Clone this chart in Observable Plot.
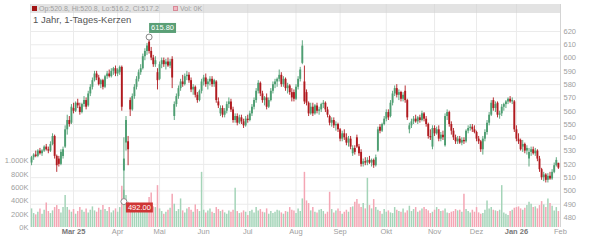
<!DOCTYPE html>
<html><head><meta charset="utf-8">
<script src="https://cdn.jsdelivr.net/npm/d3@7"></script>
<script src="https://cdn.jsdelivr.net/npm/@observablehq/plot@0.6"></script>
<style>
body{margin:0;background:#fff;font-family:"Liberation Sans",Arial,sans-serif;}
#wrap{position:relative;width:600px;height:240px;overflow:hidden;}
#hdr{position:absolute;left:30px;top:4px;width:530px;height:9px;background:rgba(208,208,208,0.6);}
.hd{position:absolute;top:4px;font-size:7px;line-height:9px;color:#a0a0a0;white-space:nowrap;}
.sq{position:absolute;top:5.5px;width:5px;height:5px;box-sizing:border-box;}
#title{position:absolute;left:33px;top:14px;font-size:9.5px;color:#555;white-space:nowrap;}
</style></head>
<body><div id="wrap"><div id="chart"></div>
<div id="hdr"></div>
<div class="sq" style="left:32px;background:#a31515"></div>
<div class="hd" id="ohlc" style="left:39px"></div>
<div class="sq" style="left:173px;background:#f2b8c2;border:1px solid #d88a98"></div>
<div class="hd" id="vol" style="left:180px"></div>
<div id="title"></div>
</div>
<script>
const titleText = "1 Jahr, 1-Tages-Kerzen";
const headerOHLC = "Op:520.8, Hi:520.8, Lo:516.2, Cl:517.2";
const headerVol = "Vol: 0K";
const holidays = ["2025-04-18","2025-04-21","2025-05-01","2025-12-24","2025-12-25","2025-12-26","2025-12-31","2026-01-01"];
const monthNames = ["Jan","Feb","Mar","Apr","Mai","Jun","Jul","Aug","Sep","Okt","Nov","Dez"];
const priceTicks = [480,490,500,510,520,530,540,550,560,570,580,590,600,610,620];
const volTicks = [0,200,400,600,800,1000];
const volLabels = ["0K","200K","400K","600K","800K","1.000K"];

const opens = [521,525,527,526,530,528,530,533,531,530, 535,541,526,524,520,526,533,546,553,551,
562,560,566,563,559,565,568,564,573,578, 583,588,585,580,583,578,586,588,586,590,
592,588,589,593,515,536,537,568,561,571, 578,584,589,592,601,605,612,605,600,595,
589,584,595,598,595,597,594,599,556,565, 571,577,582,580,586,587,583,576,578,572,
568,575,582,585,580,582,584,580,582,567, 558,562,557,560,565,567,561,553,556,551,
555,552,549,554,553,558,563,568,575,581, 573,568,570,563,568,575,580,582,584,587,
580,584,577,579,574,574,569,578,584,596, 582,574,566,558,563,558,564,560,561,565,
566,561,556,551,553,549,550,546,539,543, 540,536,539,528,532,540,533,529,520,522,
521,523,521,523,519,530,548,545,550,554, 559,556,566,573,577,572,574,569,575,568,
546,549,552,554,552,555,553,558,554,550, 541,533,547,543,546,539,542,534,556,559,
550,545,540,537,539,536,538,537,545,547, 548,546,544,539,537,531,539,544,551,557,
568,562,566,557,558,563,565,567,569,567, 567,546,539,538,533,535,530,524,529,531,
528,530,524,516,510,512,508,511,509,514, 519,520.8];
const highs = [526,528,530,531,532,531,534,535,533,537, 543,542,527,526,531,533,549,557,556,565,
566,567,569,566,566,571,570,575,580,585, 590,590,587,584,584,587,590,591,592,593,
594,592,594,594,540,556,541,570,573,580, 586,591,595,603,607,611,615.8,608,602,601,
592,597,600,600,599,600,599,601,567,573, 579,584,587,588,590,589,585,580,579,574,
576,584,587,588,584,586,586,584,583,570, 564,564,562,567,570,569,563,558,558,557,
557,554,556,557,560,565,570,577,583,582, 575,571,573,570,577,582,584,585,591,589,
586,585,581,580,577,576,580,586,593,613, 594,576,567,566,566,565,566,563,566,568,
567,563,557,555,555,552,551,547,545,546, 543,541,541,534,534,542,535,531,524,525,
525,526,524,524,527,548,550,551,556,561, 561,568,575,579,580,576,575,574,579,569,
551,554,556,557,556,557,560,559,556,551, 546,549,549,548,549,544,545,558,561,560,
552,547,542,541,541,540,540,546,549,550, 550,549,545,541,538,541,546,553,559,568,
570,567,567,560,565,566,568,570,571,570, 568,549,543,539,538,536,534,532,533,533,
532,531,526,517,514,513,513,514,516,521, 525,520.8];
const lows = [519,523,525,525,527,526,529,530,528,529, 534,524,514,518,519,524,532,542,548,550,
558,559,562,557,558,563,561,563,571,576, 582,583,579,577,576,577,584,585,585,587,
586,586,587,560,492,530,519,556,560,569, 576,582,587,591,598,602,603,598,593,593,
576,583,592,593,591,593,592,577,553,563, 569,575,578,579,583,581,574,572,570,566,
567,573,579,578,576,579,578,578,566,562, 556,555,555,558,562,559,551,551,549,550,
550,547,548,551,552,556,561,566,573,571, 566,564,561,562,567,573,577,578,582,578,
578,575,573,572,567,567,568,576,582,595, 565,564,556,557,556,557,558,557,559,562,
559,555,549,548,547,545,544,537,537,538, 534,533,531,526,527,532,526,518,518,519,
519,520,518,517,518,529,543,544,549,552, 553,555,564,571,570,568,567,567,566,553,
543,547,550,551,550,551,552,552,548,539, 538,531,541,542,537,537,538,533,553,548,
542,538,535,535,535,534,535,536,543,545, 544,543,537,535,529,527,537,542,549,556,
560,559,555,554,556,560,562,565,566,565, 544,537,535,530,529,528,527,518,526,527,
526,522,514,508,507,506,506,508,508,513, 518,516.2];
const closes = [525,527,526,530,528,530,533,531,530,535, 541,526,519,520,529,531,546,553,550,563,
560,566,564,559,565,568,563,573,578,583, 588,585,580,583,578,586,588,586,590,592,
588,591,593,563,524,553,531,561,571,578, 584,589,592,601,605,609,605,600,595,598,
583,595,598,595,597,594,597,585,565,571, 577,582,580,586,587,583,576,578,572,568,
575,582,585,580,582,584,580,583,568,564, 562,557,560,565,567,561,553,556,551,555,
552,549,554,553,558,563,568,575,581,573, 568,570,563,568,575,580,582,584,587,580,
584,577,579,574,570,569,578,584,591,609, 567,566,558,563,558,564,560,561,565,566,
561,557,551,553,549,550,546,539,543,540, 536,539,533,532,529,533,528,520,522,521,
523,521,523,519,525,546,545,550,554,559, 555,566,573,577,572,574,569,572,568,555,
549,552,554,552,555,553,558,554,550,541, 540,547,543,546,539,542,540,556,559,550,
545,540,537,539,536,538,537,545,547,548, 546,544,539,537,531,539,544,551,557,566,
562,565,557,558,563,565,567,569,567,568, 546,539,537,531,535,530,532,529,531,528,
530,524,516,510,512,508,511,509,514,519, 523,517.2];
const volumes = [280,210,190,230,280,200,260,370,240,210, 250,300,330,270,220,300,480,300,260,230,
270,200,240,300,260,230,280,220,260,310, 250,230,290,260,330,270,240,300,220,250,
280,230,300,620,560,480,380,300,270,240, 220,230,260,250,300,270,450,520,310,300,
630,280,240,200,230,260,290,500,350,240, 270,430,250,220,280,300,260,230,340,270,
240,830,260,220,250,280,230,210,300,270, 240,260,220,200,250,230,260,590,240,210,
220,250,230,180,240,260,220,300,250,270, 230,220,280,200,240,210,230,260,250,220,
200,240,230,300,260,250,210,280,240,430, 830,400,360,250,300,230,220,260,270,240,
200,230,530,270,220,250,280,240,200,230, 260,230,300,310,380,420,350,300,360,280,
740,330,280,420,300,260,240,200,270,230, 250,220,210,300,260,240,230,280,220,250,
320,240,270,300,230,250,280,300,270,250, 210,230,260,300,270,240,250,280,220,210,
230,240,270,250,260,230,500,270,240,220, 260,230,300,220,200,210,260,400,280,300,
260,250,240,260,630,220,200,180,240,260, 290,300,310,280,260,290,330,380,350,300,
310,280,330,390,340,300,430,360,320,250, 300,240];

const UP = "#4e9e72", DOWN = "#b01a1f", VUP = "#a4d4b8", VDOWN = "#f4a6b4";

// trading days (weekdays without exchange holidays)
const dates = [];
for (let t = Date.UTC(2025,1,3); t <= Date.UTC(2026,0,30); t += 864e5) {
  const d = new Date(t), wd = d.getUTCDay(), s = d.toISOString().slice(0,10);
  if (wd === 0 || wd === 6 || holidays.includes(s)) continue;
  dates.push(s);
}
const N = closes.length;
const rows = closes.map((c,i) => ({i, o: opens[i], h: highs[i], l: lows[i], c, v: volumes[i], up: c >= opens[i]}));

const monthTicks = [];
for (let i = 1; i <= N; i++) {
  const ym = i < N ? (dates[i] || "2026-02").slice(0,7) : "2026-02";
  const pym = (dates[i-1] || "").slice(0,7);
  if (ym !== pym) {
    const m = +ym.slice(5,7) - 1, first = monthTicks.length === 0;
    const yearLbl = first || m === 0;
    monthTicks.push({i, label: monthNames[m] + (yearLbl ? " " + ym.slice(2,4) : ""), bold: yearLbl});
  }
}

const volBase = 472.5, volPerUnit = 20;
const maxIdx = highs.indexOf(d3.max(highs));
const minIdx = lows.indexOf(d3.min(lows));
const extremes = [{i: maxIdx, p: highs[maxIdx], t: highs[maxIdx].toFixed(2)}, {i: minIdx, p: lows[minIdx], t: lows[minIdx].toFixed(2)}];

const chart = Plot.plot({
  width: 600, height: 240,
  marginTop: 4, marginBottom: 13, marginLeft: 30, marginRight: 40,
  style: {fontFamily: "Liberation Sans, Arial, sans-serif", background: "transparent"},
  x: {type: "linear", domain: [-0.5, N], axis: null},
  y: {domain: [472.5, 640.3], axis: null},
  color: {type: "identity"},
  marks: [
    Plot.ruleY(priceTicks, {stroke: "#ebebeb", strokeWidth: 1}),
    Plot.ruleX([{i: -0.5}], {x: "i", stroke: "#ebebeb"}),
    Plot.ruleX(monthTicks.filter(d => d.i < N), {x: "i", stroke: "#ebebeb"}),
    Plot.ruleX([{i: N}], {x: "i", stroke: "#d4d4d4"}),
    Plot.ruleX(rows, {x: "i", y1: volBase, y2: d => volBase + d.v / volPerUnit, stroke: d => d.up ? VUP : VDOWN, strokeWidth: 1.5}),
    Plot.ruleX(rows, {x: "i", y1: "l", y2: "h", stroke: d => d.up ? UP : DOWN, strokeWidth: 0.9}),
    Plot.ruleX(rows, {x: "i", y1: "o", y2: "c", stroke: d => d.up ? UP : DOWN, strokeWidth: 1.9}),
    Plot.text(priceTicks, {y: d => d, text: d => String(d), frameAnchor: "right", textAnchor: "start", dx: 3, fill: "#a0a0a0", fontSize: 7.5}),
    Plot.text(volTicks, {y: d => volBase + d / volPerUnit, text: (d, k) => volLabels[k], frameAnchor: "left", textAnchor: "end", dx: -2, fill: "#a0a0a0", fontSize: 7.5}),
    Plot.text(monthTicks.filter(d => !d.bold), {x: "i", text: "label", frameAnchor: "bottom", dy: 6, fill: "#a0a0a0", fontSize: 7.5}),
    Plot.text(monthTicks.filter(d => d.bold), {x: "i", text: "label", frameAnchor: "bottom", dy: 6, fill: "#777", fontSize: 7.5, fontWeight: "bold"}),
    Plot.dot(extremes, {x: "i", y: "p", r: 3, stroke: "#888", fill: "white", strokeWidth: 1}),
    Plot.text(extremes.slice(0,1), {x: "i", y: "p", text: "t", textAnchor: "start", dx: 2, dy: -9, fill: "white", fontSize: 7.5}),
    Plot.text(extremes.slice(1), {x: "i", y: "p", text: "t", textAnchor: "start", dx: 4, dy: 6, fill: "white", fontSize: 7.5})
  ]
});
document.getElementById("chart").appendChild(chart);

// label boxes behind the extreme-value texts
d3.select(chart).selectAll("text").each(function() {
  const txt = this.textContent;
  const idx = extremes.findIndex(e => e.t === txt);
  if (idx < 0) return;
  const bb = this.getBBox();
  const r = document.createElementNS("http://www.w3.org/2000/svg", "rect");
  r.setAttribute("x", bb.x - 2); r.setAttribute("y", bb.y - 0.5);
  r.setAttribute("width", bb.width + 4); r.setAttribute("height", bb.height + 1);
  r.setAttribute("fill", idx === 0 ? "#5a9f76" : "#cf3535");
  const tr = this.getAttribute("transform"); if (tr) r.setAttribute("transform", tr);
  this.parentNode.insertBefore(r, this);
});

document.getElementById("title").textContent = titleText;
document.getElementById("ohlc").textContent = headerOHLC;
document.getElementById("vol").textContent = headerVol;
</script>
</body></html>
